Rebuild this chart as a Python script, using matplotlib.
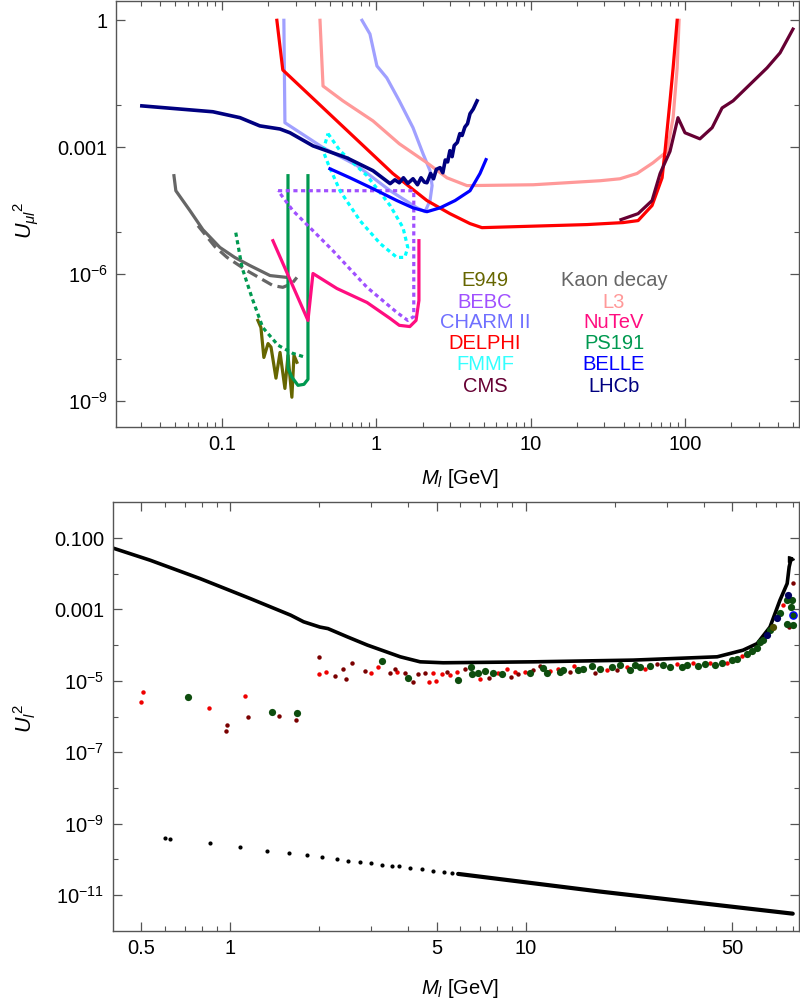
import numpy as np
import matplotlib.pyplot as plt
from matplotlib.ticker import FixedLocator, NullFormatter

plt.rcParams["font.family"] = ["Liberation Sans", "DejaVu Sans"]
plt.rcParams["mathtext.fontset"] = "custom"
plt.rcParams["mathtext.rm"] = "Liberation Sans"
plt.rcParams["mathtext.it"] = "Liberation Sans:italic"

## top panel: exclusion curves (M in GeV, U^2)
lhcb_m = [0.0303, 0.0874, 0.131, 0.176, 0.238, 0.276, 0.389, 0.646, 0.952, 1.23, 1.32, 1.41,
          1.5, 1.6, 1.73, 1.85, 1.95, 2.05, 2.13, 2.25, 2.35, 2.45, 2.59, 2.7, 2.8, 2.9, 3.0,
          3.1, 3.2, 3.35, 3.48, 3.6, 3.75, 3.9, 4.05, 4.25, 4.5]
lhcb_u = [9.5e-3, 6.9e-3, 5.0e-3, 3.2e-3, 2.7e-3, 2.2e-3, 1.08e-3, 5.6e-4, 2.8e-4, 1.38e-4,
          1.7e-4, 1.45e-4, 1.9e-4, 1.4e-4, 1.8e-4, 1.3e-4, 1.9e-4, 1.5e-4, 1.45e-4, 2.4e-4,
          1.8e-4, 3.0e-4, 3.3e-4, 2.5e-4, 5.0e-4, 4.5e-4, 8.3e-4, 6.0e-4, 1.1e-3, 1.3e-3,
          2.1e-3, 1.9e-3, 3.0e-3, 3.6e-3, 6.2e-3, 8.0e-3, 1.25e-2]

kaon_m = [0.0489, 0.0503, 0.062, 0.0753, 0.097, 0.121, 0.152, 0.205, 0.264]
kaon_u = [2.13e-4, 9.4e-5, 3.2e-5, 1.13e-5, 4.3e-6, 2.5e-6, 1.6e-6, 9.3e-7, 8.4e-7]
kaon2_m = [0.070, 0.090, 0.108, 0.145, 0.214, 0.248, 0.284, 0.306]
kaon2_u = [1.4e-5, 4.5e-6, 2.5e-6, 1.22e-6, 5.4e-7, 4.9e-7, 6.0e-7, 8.4e-7]

e949_m = [0.171, 0.179, 0.187, 0.199, 0.208, 0.224, 0.238, 0.256, 0.268, 0.284, 0.293, 0.306]
e949_u = [8.1e-8, 5.5e-8, 1.08e-8, 2.3e-8, 1.9e-8, 3.5e-9, 1.42e-8, 2.0e-9, 1.21e-8,
          1.24e-9, 1.21e-8, 8.3e-9]

ps191_m = [0.268, 0.268, 0.284, 0.311, 0.340, 0.361, 0.361]
ps191_u = [2.13e-4, 6.0e-9, 3.7e-9, 2.37e-9, 2.5e-9, 3.3e-9, 2.13e-4]
ps191b_m = [0.123, 0.135, 0.157, 0.184, 0.231, 0.288, 0.350]
ps191b_u = [9.6e-6, 1.44e-6, 2.7e-7, 5.5e-8, 2.1e-8, 1.35e-8, 1.08e-8]

nutev_m = [0.214, 0.361, 0.389, 0.556, 0.871, 1.23, 1.41, 1.65, 1.81, 1.89, 1.89]
nutev_u = [6.2e-6, 8.1e-8, 1.04e-6, 4.6e-7, 2.15e-7, 9.0e-8, 6.2e-8, 5.8e-8, 8.1e-8, 2.4e-7, 6.2e-6]

bebc_m = [0.231, 1.75, 1.75, 1.60, 1.36, 0.871, 0.524, 0.389, 0.288, 0.231]
bebc_u = [9.4e-5, 9.4e-5, 1.0e-7, 8.1e-8, 1.25e-7, 4.9e-7, 3.6e-6, 1.07e-5, 3.2e-5, 9.4e-5]

fmmf_m = [0.487, 0.582, 0.871, 1.23, 1.49, 1.60, 1.53, 1.36, 1.06, 0.784, 0.582, 0.487, 0.452, 0.487]
fmmf_u = [2.1e-3, 8.3e-4, 2.13e-4, 4.2e-5, 1.26e-5, 4.3e-6, 2.5e-6, 2.5e-6, 5.3e-6, 1.85e-5,
          9.4e-5, 4.1e-4, 8.3e-4, 2.1e-3]

belle_m = [0.501, 0.676, 0.952, 1.36, 1.73, 2.13, 2.59, 3.24, 4.05, 4.70, 5.14]
belle_u = [3.1e-4, 1.9e-4, 1.05e-4, 5.5e-5, 3.7e-5, 3.0e-5, 3.7e-5, 5.5e-5, 9.4e-5, 2.4e-4, 5.1e-4]

charm_m = [0.252, 0.256, 0.452, 0.75, 1.23, 1.84, 2.07, 2.23, 2.30, 2.23, 2.01, 1.73, 1.41,
           1.17, 1.01, 0.91, 0.808]
charm_u = [1.0, 3.8e-3, 9.8e-4, 3.7e-4, 9.4e-5, 3.7e-5, 3.0e-5, 5.5e-5, 1.24e-4, 2.8e-4,
           7.0e-4, 2.9e-3, 1.25e-2, 4.36e-2, 8.35e-2, 0.475, 1.0]

delphi_m = [0.227, 0.248, 1.28, 2.13, 3.0, 4.05, 4.84, 23.2, 39.7, 49.7, 61.2, 71.1, 74.3,
            80.0, 83.8, 89.0]
delphi_u = [1.0, 0.067, 2.4e-4, 5.5e-5, 2.7e-5, 1.57e-5, 1.26e-5, 1.49e-5, 1.66e-5, 1.85e-5,
            4.2e-5, 1.9e-4, 8.3e-4, 1.25e-2, 0.075, 1.0]

l3_m = [0.432, 0.452, 0.608, 0.952, 1.41, 2.13, 2.87, 3.87, 10.4, 28.3, 37.9, 48.9, 62.1,
        76.6, 83.8, 89.0, 91.6]
l3_u = [1.0, 0.028, 0.0125, 4.2e-3, 1.21e-3, 4.3e-4, 1.9e-4, 1.24e-4, 1.3e-4, 1.62e-4,
        1.8e-4, 2.4e-4, 4.3e-4, 8.0e-4, 5.0e-3, 0.075, 1.0]

cms_m = [38.5, 49.7, 61.2, 69.0, 80.0, 90.1, 100, 125, 150, 174, 205, 340, 413, 501]
cms_u = [1.95e-5, 2.7e-5, 5.5e-5, 2.4e-4, 8.0e-4, 5.0e-3, 2.2e-3, 1.58e-3, 2.9e-3, 8.5e-3,
         0.0125, 0.075, 0.17, 0.62]

## bottom panel
bound_m = [0.40, 0.536, 0.79, 1.17, 1.60, 1.77, 2.01, 2.14, 2.49, 2.91, 3.76, 4.39, 5.25,
           10.6, 23.1, 44.4, 54.3, 60.6, 67.0, 72.4, 76.6, 77.8, 79.0]
bound_u = [0.0525, 0.0238, 7.3e-3, 2.0e-3, 6.9e-4, 4.5e-4, 3.2e-4, 2.9e-4, 1.7e-4, 1.0e-4,
           4.7e-5, 3.4e-5, 3.2e-5, 3.4e-5, 3.8e-5, 4.7e-5, 7.2e-5, 1.1e-4, 3.2e-4, 1.8e-3,
           5.3e-3, 0.0155, 0.0265]

red_m = [0.505, 0.5, 0.845, 1.12, 2.0, 2.11, 3.0, 3.16, 3.66, 4.71, 4.86, 4.97, 5.21, 5.55,
         5.86, 7.0, 8.06, 8.64, 9.20, 9.95, 12.1, 12.8, 14.5, 18.8, 22.0, 25.3, 32.5, 36.8,
         42.0, 47.9, 53.8, 74.1]
red_u = [4.9e-6, 2.5e-6, 1.76e-6, 3.8e-6, 1.6e-5, 1.8e-5, 1.7e-5, 2.5e-5, 1.8e-5, 9.0e-6,
         1.67e-5, 1.0e-5, 1.54e-5, 1.44e-5, 1.72e-5, 1.12e-5, 1.67e-5, 2.1e-5, 1.79e-5,
         1.79e-5, 1.87e-5, 2.2e-5, 2.6e-5, 2.0e-5, 2.5e-5, 2.2e-5, 2.9e-5, 3.1e-5, 3.2e-5,
         3.1e-5, 5.0e-5, 1.31e-3]

dark_m = [0.975, 0.969, 1.15, 1.46, 1.67, 1.99, 2.26, 2.40, 2.46, 2.59, 2.85, 3.46, 3.61,
          3.91, 4.16, 4.32, 4.56, 5.42, 6.23, 7.51, 8.92, 9.42, 10.6, 11.2, 14.1, 17.2, 20.4,
          27.8, 77.6, 80.1]
dark_u = [5.8e-7, 4.0e-7, 9.8e-7, 1.05e-6, 8.0e-7, 4.5e-5, 1.35e-5, 2.2e-5, 1.1e-5, 3.1e-5,
          1.9e-5, 1.7e-5, 2.2e-5, 1.61e-5, 9.0e-6, 1.51e-5, 1.61e-5, 1.79e-5, 2.2e-5, 1.21e-5,
          1.29e-5, 1.51e-5, 2.0e-5, 2.6e-5, 1.79e-5, 1.67e-5, 2.0e-5, 2.9e-5, 3.2e-4, 5.5e-3]

green_m = [0.72, 1.38, 1.68, 3.27, 4.0, 5.90, 6.53, 6.58, 6.90, 7.28, 7.75, 8.32, 10.3, 11.4,
           11.8, 13.1, 13.4, 15.0, 15.6, 16.8, 17.8, 19.6, 20.8, 22.5, 23.4, 24.4, 26.3, 29.1,
           30.8, 33.8, 35.1, 38.3, 40.4, 43.7, 46.1, 49.8, 51.8, 56.0, 58.2, 60.5, 61.9, 63.4,
           67.0, 72.4, 76.4, 79.5, 78.9, 80.1, 76.4]
green_u = [3.6e-6, 1.36e-6, 1.22e-6, 3.6e-5, 1.17e-5, 1.05e-5, 2.4e-5, 1.51e-5, 1.61e-5,
           1.87e-5, 1.61e-5, 1.51e-5, 1.61e-5, 2.3e-5, 1.61e-5, 1.79e-5, 2.0e-5, 2.0e-5, 2.2e-5,
           2.6e-5, 2.2e-5, 2.5e-5, 2.75e-5, 2.0e-5, 2.75e-5, 2.5e-5, 2.6e-5, 2.75e-5, 2.5e-5,
           2.5e-5, 2.75e-5, 2.6e-5, 2.9e-5, 2.75e-5, 3.2e-5, 3.8e-5, 4.2e-5, 5.8e-5, 6.8e-5,
           8.1e-5, 1.23e-4, 1.37e-4, 2.6e-4, 7.7e-4, 1.8e-3, 1.8e-3, 1.17e-3, 3.6e-4, 4.0e-4]

navy_m = [65.4, 70.8, 77.0]
navy_u = [1.9e-4, 5.6e-4, 2.5e-3]
blue_m = [80.1]
blue_u = [6.9e-4]
olive_m = [68.6]
olive_u = [3.2e-4]

# black dots (separate ones) and the dense tail
dots_m = [0.603, 0.627, 0.851, 1.081, 1.33, 1.58, 1.82, 2.04, 2.30, 2.51, 2.75, 3.0, 3.26,
          3.52, 3.71, 4.06, 4.45, 4.87, 5.27, 5.63]
dots_u = [3.9e-10, 3.8e-10, 2.83e-10, 2.19e-10, 1.76e-10, 1.49e-10, 1.31e-10, 1.15e-10,
          1.03e-10, 9.2e-11, 8.5e-11, 8.0e-11, 7.1e-11, 6.6e-11, 6.3e-11, 5.65e-11, 5.3e-11,
          4.8e-11, 4.45e-11, 4.1e-11]
tail_m = [5.9, 17.8, 80.0]
tail_u = [3.9e-11, 1.25e-11, 3.0e-12]

legend1 = ["E949", "BEBC", "CHARM II", "DELPHI", "FMMF", "CMS"]
legend2 = ["Kaon decay", "L3", "NuTeV", "PS191", "BELLE", "LHCb"]

colors = {
    "E949": "#666600", "BEBC": "#a050ff", "CHARM II": "#7070ff", "DELPHI": "#ff0000",
    "FMMF": "#33ffff", "CMS": "#660033", "Kaon decay": "#666666", "L3": "#ff9999",
    "NuTeV": "#ff0d80", "PS191": "#009950", "BELLE": "#0000ff", "LHCb": "#000080",
}

W, H = 800, 1006
fig = plt.figure(figsize=(W / 100, H / 100), dpi=100)
ax1 = fig.add_axes([116 / W, 1 - 427 / H, 683 / W, 426 / H])
ax2 = fig.add_axes([112.7 / W, 1 - 930.7 / H, 686.3 / W, 428.4 / H])

lw = 2.3
dot = (0, (1.3, 1.1))
ax1.plot(charm_m, charm_u, color="#a0a0ff", lw=lw)
ax1.plot(l3_m, l3_u, color=colors["L3"], lw=lw)
ax1.plot(delphi_m, delphi_u, color=colors["DELPHI"], lw=lw)
ax1.plot(cms_m, cms_u, color=colors["CMS"], lw=lw)
ax1.plot(kaon_m, kaon_u, color=colors["Kaon decay"], lw=lw)
ax1.plot(kaon2_m, kaon2_u, color=colors["Kaon decay"], lw=lw, ls=(0, (3.5, 1.8)))
ax1.plot(e949_m, e949_u, color=colors["E949"], lw=lw)
ax1.plot(ps191b_m, ps191b_u, color=colors["PS191"], lw=lw, ls=dot)
ax1.plot(ps191_m, ps191_u, color=colors["PS191"], lw=lw)
ax1.plot(nutev_m, nutev_u, color=colors["NuTeV"], lw=lw)
ax1.plot(bebc_m, bebc_u, color=colors["BEBC"], lw=lw, ls=dot)
ax1.plot(fmmf_m, fmmf_u, color="#00ffff", lw=lw, ls=dot)
ax1.plot(belle_m, belle_u, color=colors["BELLE"], lw=lw)
ax1.plot(lhcb_m, lhcb_u, color=colors["LHCb"], lw=2.6)

ax2.plot(bound_m, bound_u, color="black", lw=2.6, zorder=2)
ax2.plot(bound_m[-1:], bound_u[-1:], marker=">", ms=5, color="black", zorder=2)
ax2.plot(red_m, red_u, "o", ms=3.2, color="#ee0000", mec="none", zorder=3)
ax2.plot(dark_m, dark_u, "o", ms=3.2, color="#7a0000", mec="none", zorder=3)
ax2.plot(green_m, green_u, "o", ms=5.2, color="#0e4d0e", mec="none", zorder=4)
ax2.plot(navy_m, navy_u, "o", ms=5.2, color="#000060", mec="none", zorder=4)
ax2.plot(blue_m, blue_u, "o", ms=5.2, color="#0e4d0e", mec="#0000ff", mew=1, zorder=4)
ax2.plot(olive_m, olive_u, "o", ms=5.2, color="#4d4d00", mec="none", zorder=4)
ax2.plot(dots_m, dots_u, "o", ms=3.0, color="black", mec="none")
ax2.plot(tail_m, tail_u, color="black", lw=3.0, solid_capstyle="round")

for ax in (ax1, ax2):
    ax.set_xscale("log")
    ax.set_yscale("log")
    for s in ax.spines.values():
        s.set_color("#555555")
        s.set_linewidth(1.0)
    ax.tick_params(which="both", direction="in", top=True, right=True, color="#555555",
                   labelsize=14.5, pad=6)
    ax.tick_params(which="major", length=6.5, width=0.9)
    ax.tick_params(which="minor", length=3.8, width=0.8)

ax1.set_xlim(0.0206, 548)
ax1.set_ylim(10 ** -9.61, 10 ** 0.456)
ax1.set_xticks([0.1, 1, 10, 100], labels=["0.1", "1", "10", "100"])
ax1.xaxis.set_minor_locator(FixedLocator(
    [k * 10.0 ** d for d in range(-2, 3) for k in range(2, 10)]))
ax1.xaxis.set_minor_formatter(NullFormatter())
ax1.set_yticks([1, 1e-3, 1e-6, 1e-9],
               labels=["1", "0.001", r"$10^{\mathregular{-6}}$", r"$10^{\mathregular{-9}}$"])
ax1.yaxis.set_minor_locator(FixedLocator([1e-2, 1e-5, 1e-8]))
ax1.yaxis.set_minor_formatter(NullFormatter())

ax2.set_xlim(0.40, 84)
ax2.set_ylim(1e-12, 1.0)
ax2.set_xticks([0.5, 1, 5, 10, 50], labels=["0.5", "1", "5", "10", "50"])
ax2.xaxis.set_minor_locator(FixedLocator(
    [0.6, 0.7, 0.8, 0.9, 2, 3, 4, 6, 7, 8, 9, 20, 30, 40, 60, 70, 80]))
ax2.xaxis.set_minor_formatter(NullFormatter())
ax2.set_yticks([0.1, 1e-3, 1e-5, 1e-7, 1e-9, 1e-11],
               labels=["0.100", "0.001", r"$10^{\mathregular{-5}}$", r"$10^{\mathregular{-7}}$",
                       r"$10^{\mathregular{-9}}$", r"$10^{\mathregular{-11}}$"])
ax2.yaxis.set_minor_locator(FixedLocator([1e-2, 1e-4, 1e-6, 1e-8, 1e-10]))
ax2.yaxis.set_minor_formatter(NullFormatter())

# legend text block
for i, name in enumerate(legend1):
    fig.text(485 / W, 1 - (281 + 21 * i) / H, name, color=colors[name], fontsize=14.5,
             ha="center", va="center")
for i, name in enumerate(legend2):
    fig.text(614 / W, 1 - (281 + 21 * i) / H, name, color=colors[name], fontsize=14.5,
             ha="center", va="center")

# axis labels
fig.text(460 / W, 1 - 478 / H, r"$M_{l}$ [GeV]", fontsize=14.5, ha="center", va="center")
fig.text(460 / W, 1 - 988 / H, r"$M_{l}$ [GeV]", fontsize=14.5, ha="center", va="center")
fig.text(25 / W, 1 - 220 / H, r"$U_{\mu l}{}^{\mathregular{2}}$", fontsize=15.5, rotation=90,
         ha="center", va="center")
fig.text(25 / W, 1 - 718 / H, r"$U_{l}{}^{\mathregular{2}}$", fontsize=15.5, rotation=90,
         ha="center", va="center")

fig.savefig("out.png", dpi=100)
